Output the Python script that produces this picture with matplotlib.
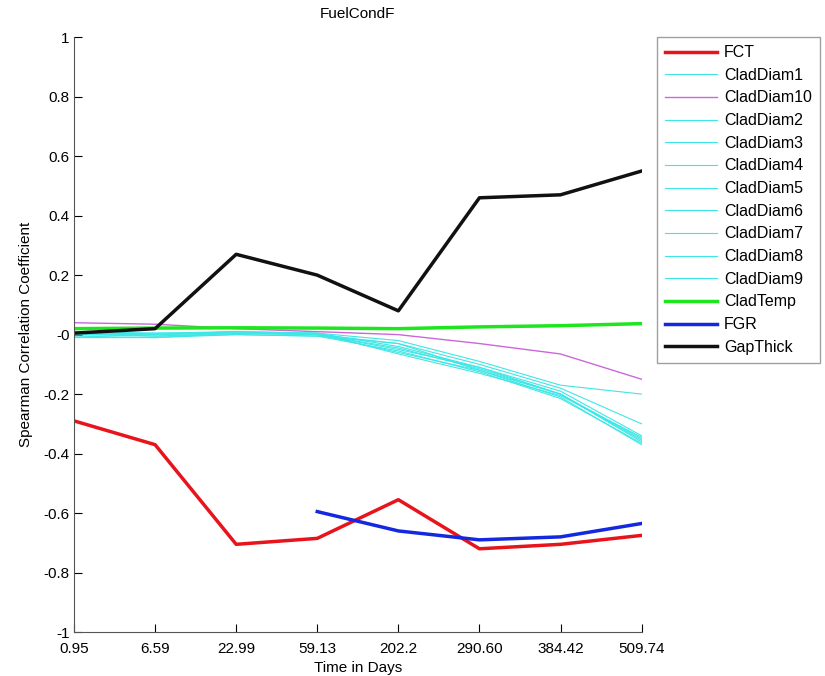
import matplotlib
matplotlib.use("Agg")
import matplotlib.pyplot as plt
import numpy as np

plt.rcParams['font.family'] = ['Liberation Sans', 'DejaVu Sans']

time_labels = ["0.95", "6.59", "22.99", "59.13", "202.2", "290.60", "384.42", "509.74"]

fct = [-0.29, -0.37, -0.705, -0.685, -0.555, -0.72, -0.705, -0.675]
fgr = [np.nan, np.nan, np.nan, -0.595, -0.66, -0.69, -0.68, -0.635]
gap_thick = [0.005, 0.02, 0.27, 0.20, 0.08, 0.46, 0.47, 0.55]
clad_temp = [0.02, 0.022, 0.023, 0.022, 0.02, 0.026, 0.03, 0.037]
clad_diam10 = [0.04, 0.035, 0.02, 0.01, 0.0, -0.03, -0.065, -0.15]
clad_diam = {
    "CladDiam1": [0.005, 0.0, 0.01, 0.005, -0.02, -0.09, -0.17, -0.20],
    "CladDiam2": [0.0, -0.005, 0.005, 0.0, -0.03, -0.10, -0.18, -0.30],
    "CladDiam3": [0.01, 0.005, 0.01, 0.005, -0.04, -0.11, -0.19, -0.34],
    "CladDiam4": [-0.005, -0.01, 0.005, 0.0, -0.05, -0.11, -0.20, -0.35],
    "CladDiam5": [0.0, 0.0, 0.01, 0.0, -0.06, -0.12, -0.20, -0.36],
    "CladDiam6": [0.005, -0.005, 0.0, -0.005, -0.03, -0.12, -0.21, -0.37],
    "CladDiam7": [0.01, 0.0, 0.005, 0.0, -0.045, -0.115, -0.20, -0.355],
    "CladDiam8": [-0.01, -0.01, 0.0, -0.005, -0.055, -0.125, -0.215, -0.365],
    "CladDiam9": [0.0, 0.005, 0.005, 0.005, -0.065, -0.13, -0.205, -0.345],
}

x = np.arange(len(time_labels))
cyan = "#3fe6e6"

fig = plt.figure(figsize=(8.25, 6.76), dpi=100)
ax = fig.add_axes([0.0897, 0.065, 0.688, 0.88])

ax.plot(x, fct, color="#e8141c", lw=2.5, label="FCT")
ax.plot(x, clad_diam["CladDiam1"], color=cyan, lw=0.8, label="CladDiam1")
ax.plot(x, clad_diam10, color="#cc66dd", lw=1.0, label="CladDiam10")
for name in ["CladDiam%d" % i for i in range(2, 10)]:
    ax.plot(x, clad_diam[name], color=cyan, lw=0.8, label=name)
ax.plot(x, clad_temp, color="#1ee61e", lw=2.5, label="CladTemp")
ax.plot(x, fgr, color="#1428e0", lw=2.5, label="FGR")
ax.plot(x, gap_thick, color="#111111", lw=2.5, label="GapThick")

ax.set_xlim(0, len(x) - 1)
ax.set_ylim(-1, 1)
ax.set_xticks(x)
ax.set_xticklabels(time_labels)
yt = np.round(np.arange(-1, 1.01, 0.2), 1)
ax.set_yticks(yt)
ax.set_yticklabels(["%g" % v for v in yt])
ax.tick_params(direction="in", length=6, labelsize=11, pad=3)
ax.tick_params(axis="x", pad=7)
ax.spines["top"].set_visible(False)
ax.spines["right"].set_visible(False)
for s in ["left", "bottom"]:
    ax.spines[s].set_color("#555555")

ax.set_title("FuelCondF", fontsize=11, pad=14)
ax.set_xlabel("Time in Days", fontsize=11, labelpad=4)
ax.set_ylabel("Spearman Correlation Coefficient", fontsize=11, labelpad=8)

leg = fig.legend(loc="upper left", bbox_to_anchor=(0.796, 0.945), fontsize=11.5,
                 frameon=True, fancybox=False, edgecolor="#888888",
                 handlelength=3.25, labelspacing=0.48, borderpad=0.5,
                 handletextpad=0.45, borderaxespad=0)
leg.get_frame().set_linewidth(1.0)

fig.savefig("out.png", dpi=100)
